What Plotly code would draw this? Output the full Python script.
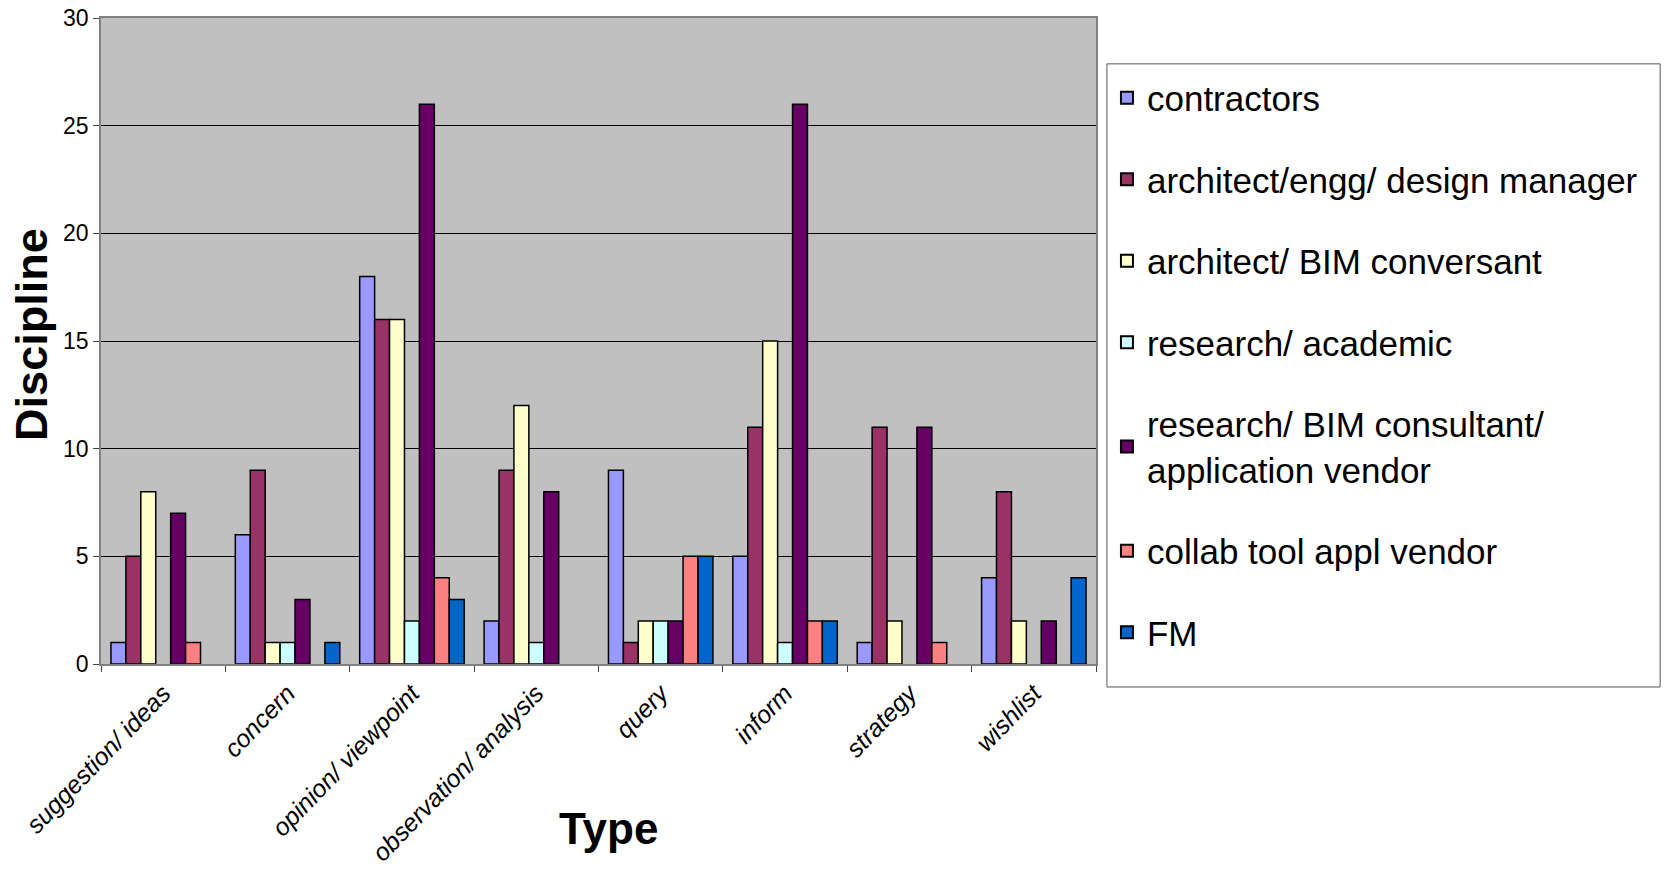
import plotly.graph_objects as go

categories = ["suggestion/ ideas", "concern", "opinion/ viewpoint", "observation/ analysis",
              "query", "inform", "strategy", "wishlist"]

contractors = [1, 6, 18, 2, 9, 5, 1, 4]
architect_engg = [5, 9, 16, 9, 1, 11, 11, 8]
architect_bim = [8, 1, 16, 12, 2, 15, 2, 2]
research_academic = [0, 1, 2, 1, 2, 1, 0, 0]
research_bim_consultant = [7, 3, 26, 8, 2, 26, 11, 2]
collab_vendor = [1, 0, 4, 0, 5, 2, 1, 0]
fm = [0, 1, 3, 0, 5, 2, 0, 4]

series_names = ["contractors", "architect/engg/ design manager", "architect/ BIM conversant",
                "research/ academic", "research/ BIM consultant/<br>application vendor",
                "collab tool appl vendor", "FM"]
series_values = [contractors, architect_engg, architect_bim, research_academic,
                 research_bim_consultant, collab_vendor, fm]
series_colors = ["#9999FF", "#993366", "#FFFFCC", "#CCFFFF", "#660066", "#FF8080", "#0066CC"]

FONT = "Arial, Liberation Sans, sans-serif"

fig = go.Figure()
for i, (name, vals, col) in enumerate(zip(series_names, series_values, series_colors)):
    # zero counts leave an empty slot instead of a flat outline
    shown = [v if v else None for v in vals]
    fig.add_trace(go.Bar(
        x=categories, y=shown, name=name, legendgroup=f"g{i}",
        marker=dict(color=col, line=dict(color="black", width=1.5)),
    ))

fig.update_layout(
    width=1669, height=873,
    margin=dict(l=101, r=573, t=18, b=209),
    paper_bgcolor="white", plot_bgcolor="#C0C0C0",
    barmode="group", bargap=0.16, bargroupgap=0,
    font=dict(family=FONT, color="black"),
    showlegend=True,
    legend=dict(
        x=1.011, y=0.922, xanchor="left", yanchor="top",
        font=dict(size=35, family=FONT, color="black"),
        borderwidth=0, bgcolor="rgba(0,0,0,0)",
        tracegroupgap=33, itemsizing="constant",
    ),
    shapes=[
        # legend frame
        dict(type="rect", xref="paper", yref="paper",
             x0=1.011, x1=1.567, y0=-0.0356, y1=0.929,
             line=dict(color="#555555", width=1), fillcolor="white", layer="below"),
    ],
    xaxis=dict(
        type="category", showgrid=False, ticks="outside", tickson="boundaries",
        ticklen=6, tickcolor="#444444", showline=True, linecolor="#808080", linewidth=1.5,
        mirror=True, tickangle=-46, ticklabelstandoff=3,
        tickfont=dict(size=25, family=FONT, style="italic", color="black"),
        automargin=False,
    ),
    yaxis=dict(
        range=[0, 30], dtick=5, showgrid=True, gridcolor="black", gridwidth=1,
        ticks="outside", ticklen=6, tickcolor="#444444", showline=True,
        linecolor="#808080", linewidth=1.5, mirror=True, zeroline=False,
        tickfont=dict(size=23, family=FONT, color="black"),
        automargin=False,
    ),
    annotations=[
        dict(text="<b>Type</b>", x=0.51, y=-0.255, xref="paper", yref="paper",
             xanchor="center", yanchor="middle", showarrow=False,
             font=dict(size=44, family=FONT, color="black")),
        dict(text="<b>Discipline</b>", x=-0.07, y=0.51, xref="paper", yref="paper",
             xanchor="center", yanchor="middle", showarrow=False, textangle=-90,
             font=dict(size=45, family=FONT, color="black")),
    ],
)

fig.write_html("out.html")
